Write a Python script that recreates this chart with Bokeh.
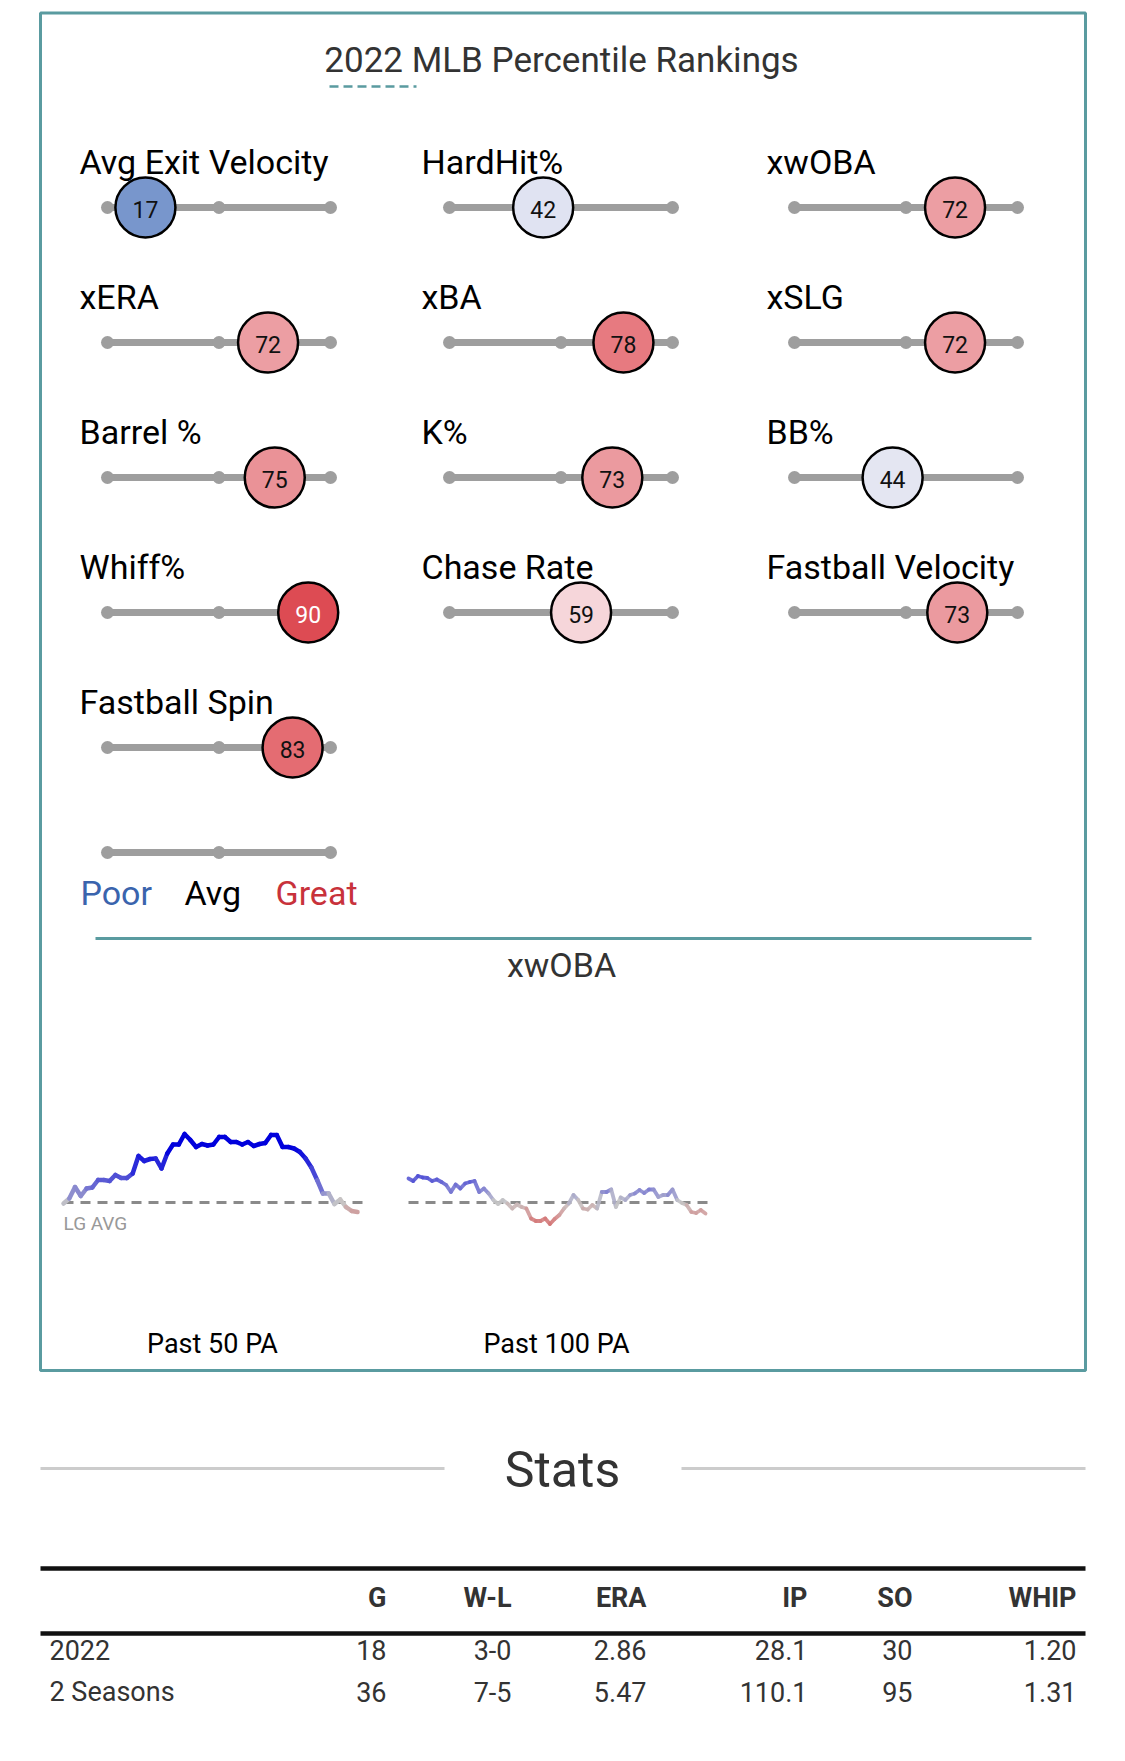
import numpy as np
from bokeh.plotting import figure
from bokeh.models import Range1d, ColumnDataSource, LinearColorMapper
from bokeh.transform import transform
from bokeh.core.properties import value
from bokeh.embed import file_html
from bokeh.resources import INLINE

# ---------------- data ----------------
title_text = "2022 MLB Percentile Rankings"
metrics = ["Avg Exit Velocity", "HardHit%", "xwOBA",
           "xERA", "xBA", "xSLG",
           "Barrel %", "K%", "BB%",
           "Whiff%", "Chase Rate", "Fastball Velocity",
           "Fastball Spin"]
percentiles = [17, 42, 72,
               72, 78, 72,
               75, 73, 44,
               90, 59, 73,
               83]
legend_labels = ["Poor", "Avg", "Great"]
legend_ticks = [0, 50, 100]

trend_title = "xwOBA"
lg_avg = 0.310
xwoba_past50 = [0.308, 0.318, 0.341, 0.323, 0.338, 0.340, 0.355, 0.355, 0.353, 0.365,
                0.359, 0.359, 0.368, 0.403, 0.393, 0.397, 0.398, 0.378, 0.408, 0.426,
                0.426, 0.447, 0.435, 0.421, 0.427, 0.424, 0.426, 0.441, 0.441, 0.431,
                0.431, 0.426, 0.431, 0.423, 0.427, 0.429, 0.445, 0.445, 0.421, 0.421,
                0.418, 0.411, 0.398, 0.380, 0.355, 0.328, 0.328, 0.307, 0.316, 0.301,
                0.293, 0.291]
xwoba_past100 = [0.358, 0.353, 0.363, 0.360, 0.359, 0.353, 0.356, 0.351, 0.345, 0.331,
                 0.346, 0.338, 0.348, 0.351, 0.353, 0.331, 0.338, 0.328, 0.315, 0.307,
                 0.315, 0.308, 0.298, 0.306, 0.301, 0.298, 0.278, 0.273, 0.273, 0.278,
                 0.267, 0.277, 0.285, 0.298, 0.308, 0.325, 0.315, 0.298, 0.296, 0.305,
                 0.298, 0.331, 0.331, 0.336, 0.301, 0.320, 0.315, 0.325, 0.328, 0.335,
                 0.329, 0.336, 0.336, 0.321, 0.325, 0.325, 0.336, 0.315, 0.309, 0.305,
                 0.291, 0.289, 0.295, 0.288]
window_labels = ["Past 50 PA", "Past 100 PA"]

stats_title = "Stats"
stat_columns = ["G", "W-L", "ERA", "IP", "SO", "WHIP"]
stat_row_labels = ["2022", "2 Seasons"]
stats_2022 = ["18", "3-0", "2.86", "28.1", "30", "1.20"]
stats_2seasons = ["36", "7-5", "5.47", "110.1", "95", "1.31"]

# ---------------- helpers ----------------
def hex2rgb(h):
    h = h.lstrip("#")
    return np.array([int(h[i:i + 2], 16) for i in (0, 2, 4)], dtype=float)

def build_palette(anchors, n):
    pos = np.array([a[0] for a in anchors], dtype=float)
    cols = np.array([hex2rgb(a[1]) for a in anchors])
    xs = np.linspace(pos[0], pos[-1], n)
    out = []
    for x in xs:
        rgb = [np.interp(x, pos, cols[:, k]) for k in range(3)]
        out.append("#%02x%02x%02x" % tuple(int(round(c)) for c in rgb))
    return out

FONT = value("Roboto")
W, H = 1109, 1745
OFF = 0  # page offset of the figure
p = figure(width=W, height=H, x_range=Range1d(OFF, OFF + W), y_range=Range1d(OFF + H, OFF),
           x_axis_type=None, y_axis_type=None, output_backend="svg",
           toolbar_location=None, min_border=0)
p.grid.visible = False
p.outline_line_color = None
p.background_fill_color = "white"
p.border_fill_color = "white"

TEAL = "#5a9ba0"

# panel border
p.quad(left=[40], right=[1085], top=[12.5], bottom=[1370], fill_color=None,
       line_color=TEAL, line_width=3)

# title
p.text(x=[561], y=[60], text=[title_text], text_align="center", text_baseline="alphabetic",
       text_font=FONT, text_font_size="35px", text_color="#333333")
p.segment(x0=[329], y0=[86], x1=[416], y1=[86], line_color=TEAL, line_width=2.5,
          line_dash="9 5")

# ---------------- percentile sliders ----------------
COL_X = [107, 449, 794]
TRACK_W = 223.0
ROW_Y = [207, 342, 477, 612, 747]
LEGEND_Y = 852
LABEL_DY = -46
k = TRACK_W / 100.0
for c, x0 in enumerate(COL_X):
    s = -(x0 - OFF) / k
    p.extra_x_ranges["c%d" % c] = Range1d(s, s + W / k)

pct_palette = build_palette([(0, "#3a63ad"), (17, "#7896cc"), (42, "#e0e3f2"), (50, "#f1f1f3"),
                             (59, "#f6d6da"), (72, "#ec9ea3"), (75, "#ea9297"), (78, "#e77a80"),
                             (83, "#e46c72"), (90, "#dd4b53"), (100, "#d21f2b")], 101)
pct_mapper = LinearColorMapper(palette=pct_palette, low=0, high=100)
num_mapper = LinearColorMapper(palette=["#111111", "#ffffff"], low=0, high=170)

TRACK_COLOR = "#9e9e9e"
for c in range(3):
    idx = [i for i in range(len(metrics)) if i % 3 == c]
    ys = [ROW_Y[i // 3] for i in idx]
    if c == 0:
        ys_tr = ys + [LEGEND_Y]
    else:
        ys_tr = ys
    rn = "c%d" % c
    p.segment(x0=[0] * len(ys_tr), x1=[100] * len(ys_tr), y0=ys_tr, y1=ys_tr,
              line_color=TRACK_COLOR, line_width=7, line_cap="round", x_range_name=rn)
    dx, dy = [], []
    for yy in ys_tr:
        for t in legend_ticks:
            dx.append(t)
            dy.append(yy)
    p.scatter(x=dx, y=dy, size=13, fill_color=TRACK_COLOR, line_color=None, x_range_name=rn)
    # labels (main range)
    p.text(x=[COL_X[c] - 28] * len(idx), y=[y + LABEL_DY for y in ys],
           text=[metrics[i] for i in idx],
           text_font=FONT, text_font_size="34px", text_color="#000000",
           text_baseline="alphabetic", text_align="left")
    src = ColumnDataSource(dict(pct=[percentiles[i] for i in idx], y=ys,
                                lab=[str(percentiles[i]) for i in idx],
                                yt=[y + 1.5 for y in ys]))
    p.scatter(x="pct", y="y", size=60, source=src, fill_color=transform("pct", pct_mapper),
              line_color="#000000", line_width=2.5, x_range_name=rn)
    p.text(x="pct", y="yt", text="lab", source=src, text_align="center", text_baseline="middle",
           text_font=FONT, text_font_size="23px", text_color=transform("pct", num_mapper),
           x_range_name=rn)

# legend words
p.text(x=[80, 184, 275], y=[892.5] * 3, text=legend_labels, text_font=FONT, text_font_size="34px",
       text_color=["#3a64ad", "#000000", "#c8323b"], text_baseline="alphabetic")

# separator
p.segment(x0=[95], x1=[1031], y0=[938], y1=[938], line_color=TEAL, line_width=3)

# ---------------- trend lines ----------------
p.text(x=[561], y=[964.5], text=[trend_title], text_align="center", text_font=FONT,
       text_font_size="34px", text_color="#333333", text_baseline="alphabetic")

AVG_Y = 1202.0
PX_PER_UNIT = 500.0
ytop = lg_avg + (AVG_Y - OFF) / PX_PER_UNIT
p.extra_y_ranges["wy"] = Range1d(ytop - H / PX_PER_UNIT, ytop)

line_palette = build_palette([(-0.13, "#c81e1e"), (-0.06, "#d24c4c"), (-0.03, "#d48888"),
                              (0.0, "#c6c6c6"), (0.03, "#7272d2"), (0.07, "#3232d8"),
                              (0.11, "#0000dc"), (0.13, "#0000dc")], 256)
line_mapper = LinearColorMapper(palette=line_palette, low=lg_avg - 0.13, high=lg_avg + 0.13)

for name, vals, xa, xb, lw, alpha in [("w50", xwoba_past50, 63, 357, 4.5, 1.0),
                                      ("w100", xwoba_past100, 408, 705, 3.8, 0.9)]:
    n = len(vals)
    kk = (xb - xa) / (n - 1)
    s = -(xa - OFF) / kk
    p.extra_x_ranges[name] = Range1d(s, s + W / kk)
    p.segment(x0=[0], x1=[(n - 1) * 1.028], y0=[lg_avg], y1=[lg_avg], line_color="#8a8a8a",
              line_width=3, line_dash="10 7", x_range_name=name, y_range_name="wy")
    v = np.array(vals)
    seg = ColumnDataSource(dict(x0=np.arange(n - 1), x1=np.arange(1, n), y0=v[:-1], y1=v[1:],
                                mid=(v[:-1] + v[1:]) / 2))
    p.segment(x0="x0", y0="y0", x1="x1", y1="y1", source=seg,
              line_color=transform("mid", line_mapper), line_width=lw, line_cap="round",
              line_alpha=alpha, x_range_name=name, y_range_name="wy")

p.text(x=[63], y=[1223], text=["LG AVG"], text_font=FONT, text_font_size="19px",
       text_color="#999999", text_baseline="alphabetic")
p.text(x=[212, 556], y=[1343, 1343], text=window_labels, text_align="center", text_font=FONT,
       text_font_size="27px", text_color="#000000", text_baseline="alphabetic")

# ---------------- stats ----------------
p.text(x=[562], y=[1469], text=[stats_title], text_align="center", text_font=FONT,
       text_font_size="50px", text_color="#333333", text_baseline="alphabetic")
p.segment(x0=[40, 681], x1=[444, 1085], y0=[1468, 1468], y1=[1468, 1468],
          line_color="#cccccc", line_width=3)
p.segment(x0=[40, 40], x1=[1085, 1085], y0=[1568, 1633], y1=[1568, 1633],
          line_color="#111111", line_width=4.5)

COL_RIGHT = [386, 511, 646, 807, 912, 1076]
p.text(x=COL_RIGHT, y=[1597.5] * 6, text=stat_columns, text_align="right", text_font=FONT,
       text_font_size="27px", text_font_style="bold", text_color="#333333",
       text_baseline="alphabetic")
ROW_BASE = [1649.5, 1691.5]
p.text(x=[49, 49], y=ROW_BASE, text=stat_row_labels, text_align="left", text_font=FONT,
       text_font_size="27px", text_color="#333333", text_baseline="alphabetic")
for vals, yb in [(stats_2022, ROW_BASE[0]), (stats_2seasons, ROW_BASE[1])]:
    p.text(x=COL_RIGHT, y=[yb] * 6, text=vals, text_align="right", text_font=FONT,
           text_font_size="27px", text_color="#333333", text_baseline="alphabetic")

open("out.html", "w").write(file_html(p, INLINE))
